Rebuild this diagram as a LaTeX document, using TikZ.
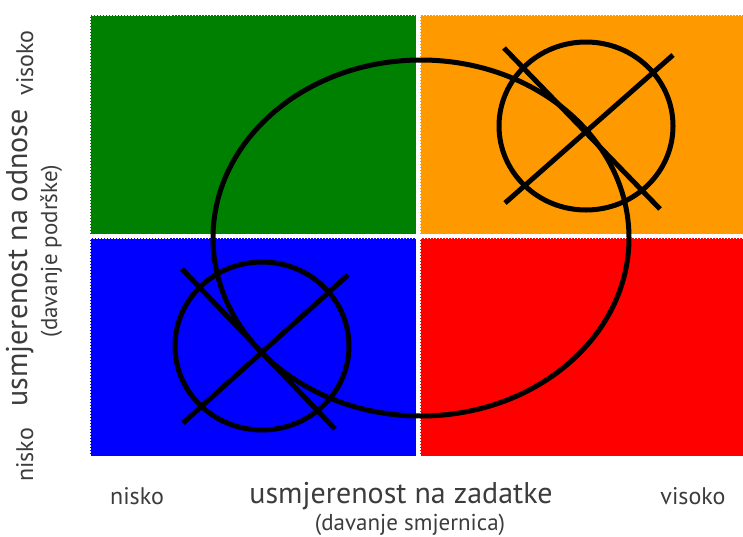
\documentclass[tikz,border=0pt]{standalone}
\usepackage{fontspec}
\setmainfont{PT Sans}
\definecolor{quadgreen}{RGB}{0,128,0}
\definecolor{quadorange}{RGB}{255,153,0}
\definecolor{quadblue}{RGB}{0,0,255}
\definecolor{quadred}{RGB}{255,0,0}
\definecolor{labelgray}{RGB}{60,60,60}
\tikzset{
  quad/.style={draw=white, line width=1pt, dash pattern=on 1.5pt off 1.5pt},
  ring/.style={draw=black, line width=5pt},
  axislabel/.style={text=labelgray, inner sep=0pt, anchor=base},
  big/.style={font=\fontsize{30}{35}\selectfont},
  small/.style={font=\fontsize{24}{29}\selectfont},
  sub/.style={font=\fontsize{23}{28}\selectfont}
}
\begin{document}
\begin{tikzpicture}[x=1pt, y=-1pt]
  \useasboundingbox (0,0) rectangle (743,536);
  % quadrants
  \fill[quadgreen]  (90,15)   rectangle (416,234);
  \fill[quadorange] (420,15)  rectangle (743,234);
  \fill[quadblue]   (90,238)  rectangle (416,456);
  \fill[quadred]    (420,238) rectangle (743,456);
  \draw[quad] (90,15)   rectangle (416,234);
  \draw[quad] (420,15)  rectangle (743,234);
  \draw[quad] (90,238)  rectangle (416,456);
  \draw[quad] (420,238) rectangle (743,456);
  % big ellipse
  \draw[ring] (421,238) ellipse [x radius=208, y radius=178];
  % crossed circles
  \draw[ring] (586,126) ellipse [x radius=87, y radius=84];
  \draw[ring] (504,48) -- (660,209);
  \draw[ring] (505,203) -- (673,55);
  \draw[ring] (262,346) ellipse [x radius=87, y radius=84];
  \draw[ring] (182,269) -- (335,429);
  \draw[ring] (183,423) -- (348,275);
  % axis labels
  \node[axislabel, small] (xlow) at (137,504) {nisko};
  \node[axislabel, big] (xname) at (401,503) {usmjerenost na zadatke};
  \node[axislabel, sub] (xsub) at (410,530) {(davanje smjernica)};
  \node[axislabel, small] (xhigh) at (693,504) {visoko};
  \node[axislabel, small, rotate=90] (ylow) at (33,455) {nisko};
  \node[axislabel, big, rotate=90] (yname) at (27,258) {usmjerenost na odnose};
  \node[axislabel, sub, rotate=90] (ysub) at (57,251) {(davanje podrške)};
  \node[axislabel, small, rotate=90] (yhigh) at (33,63) {visoko};
\end{tikzpicture}
\end{document}
